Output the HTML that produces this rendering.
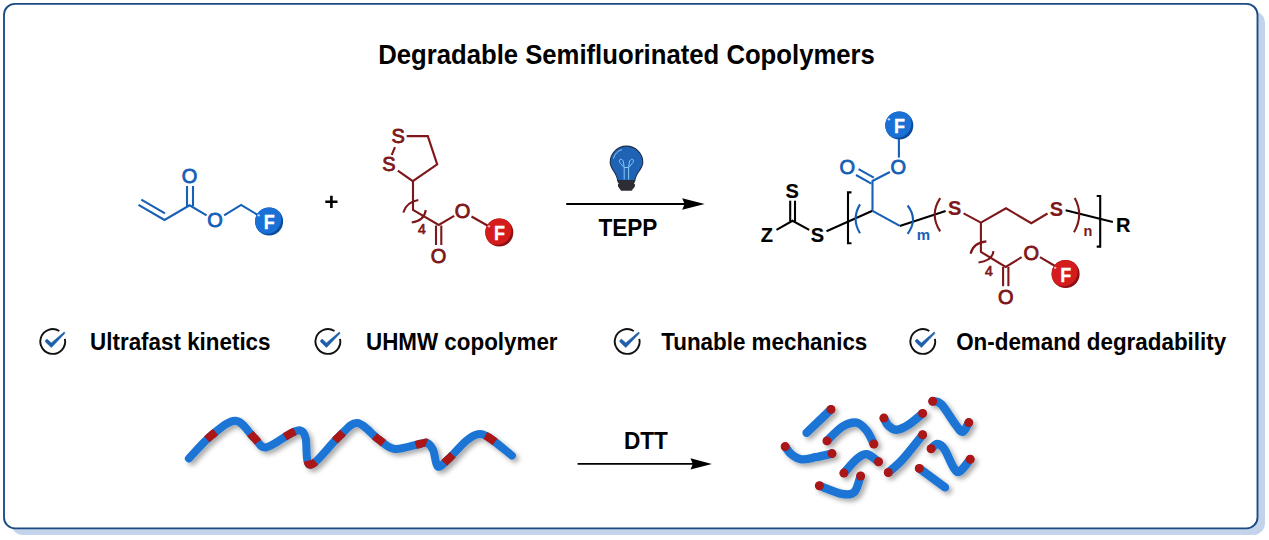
<!DOCTYPE html>
<html><head><meta charset="utf-8">
<style>
html,body{margin:0;padding:0;background:#fff;}
body{width:1269px;height:540px;overflow:hidden;position:relative;}
svg{position:absolute;left:0;top:0;}
text{font-family:"Liberation Sans",sans-serif;}
</style></head>
<body>
<svg width="1269" height="540" viewBox="0 0 1269 540">
<defs>
  <clipPath id="bc14"><circle r="14"/></clipPath>
  <filter id="psh" x="-10%" y="-30%" width="120%" height="160%">
    <feGaussianBlur in="SourceAlpha" stdDeviation="2.4"/>
    <feOffset dx="2.5" dy="3"/>
    <feComponentTransfer><feFuncA type="linear" slope="0.34"/></feComponentTransfer>
    <feMerge><feMergeNode/><feMergeNode in="SourceGraphic"/></feMerge>
  </filter>
</defs>
<rect x="11" y="11" width="1254" height="524" rx="12" fill="#c3d4ea"/>
<rect x="4" y="3.8" width="1253.5" height="524.6" rx="11" fill="#fff" stroke="#1b4a84" stroke-width="1.85"/>
<text transform="translate(626.5,63.9) scale(1,1.045)" font-size="25.7" font-weight="bold" text-anchor="middle" fill="#000">Degradable Semifluorinated Copolymers</text>

<g stroke="#1660b6" stroke-width="2.1" fill="none" stroke-linecap="butt" stroke-linejoin="miter">
<polyline points="138.5,204.9 164.5,220 189.6,205.3 206.6,215.3"/>
<line x1="141.3" y1="199.7" x2="165" y2="213.4"/>
<line x1="187" y1="186" x2="187" y2="206"/>
<line x1="193" y1="186" x2="193" y2="206"/>
<polyline points="224.1,215.3 241.1,204.9 262,217.5"/>
</g>
<text x="189.5" y="182.70" font-size="20" font-weight="normal" fill="#1660b6" stroke="#1660b6" stroke-width="0.85" text-anchor="middle">O</text>
<text x="215.1" y="227.10" font-size="20" font-weight="normal" fill="#1660b6" stroke="#1660b6" stroke-width="0.85" text-anchor="middle">O</text>
<g transform="translate(269.1,221.5)"><circle r="14" fill="#0c4c9e"/><circle cx="-2.4" cy="-2.4" r="14.6" fill="#1b70d6" clip-path="url(#bc14)"/><circle cx="-10.36" cy="-6.16" r="1.2" fill="#d6e6fa" opacity="0.9"/><text transform="translate(0.2,7.80) scale(0.9,1.0)" font-size="20" font-weight="bold" fill="#fff" stroke="#fff" stroke-width="0.3" text-anchor="middle">F</text></g>
<path d="M325.3,200.5 H337.5 V203.1 H325.3 Z M330.1,195.8 H332.7 V207.9 H330.1 Z" fill="#000"/>
<g stroke="#7e1719" stroke-width="2.1" fill="none" stroke-linecap="butt" stroke-linejoin="miter">
<polyline points="406.7,136.1 427.8,136.1 437.2,164.4 412.8,181.1 397.8,170.6"/>
<line x1="395" y1="147.2" x2="391.7" y2="155"/>
<polyline points="413,181.1 413,210 438.7,225 454.2,215.8"/>
<line x1="436" y1="225.5" x2="436" y2="245"/>
<line x1="441.3" y1="225.5" x2="441.3" y2="245"/>
<line x1="471.5" y1="216.5" x2="490" y2="227"/>
</g>
<text x="398.05" y="143.45" font-size="20" font-weight="normal" fill="#7e1719" stroke="#7e1719" stroke-width="0.85" text-anchor="middle">S</text>
<text x="388.9" y="171.00" font-size="20" font-weight="normal" fill="#7e1719" stroke="#7e1719" stroke-width="0.85" text-anchor="middle">S</text>
<text x="438.5" y="262.60" font-size="20" font-weight="normal" fill="#7e1719" stroke="#7e1719" stroke-width="0.85" text-anchor="middle">O</text>
<text x="462.5" y="218.10" font-size="20" font-weight="normal" fill="#7e1719" stroke="#7e1719" stroke-width="0.85" text-anchor="middle">O</text>
<path d="M403.3,212.5 Q406.20,202.15 418.3,200" stroke="#7e1719" stroke-width="2.1" fill="none"/>
<path d="M411.7,222.5 Q424.25,220.75 425.8,210" stroke="#7e1719" stroke-width="2.1" fill="none"/>
<text x="422" y="234.3" font-size="14" fill="#7e1719" stroke="#7e1719" stroke-width="0.7" text-anchor="middle">4</text>
<g transform="translate(499.3,232.5)"><circle r="14" fill="#8e0f12"/><circle cx="-2.4" cy="-2.4" r="14.6" fill="#d41c1c" clip-path="url(#bc14)"/><circle cx="-10.36" cy="-6.16" r="1.2" fill="#f6c9c9" opacity="0.9"/><text transform="translate(0.2,7.80) scale(0.9,1.0)" font-size="20" font-weight="bold" fill="#fff" stroke="#fff" stroke-width="0.3" text-anchor="middle">F</text></g>
<line x1="566.2" y1="204" x2="686" y2="204" stroke="#000" stroke-width="1.8"/>
<path d="M704.7,204 L682.2,198.3 L684.6,204 L682.2,209.7 Z" fill="#000"/>
<text transform="translate(627.9,236.1) scale(1,1.05)" font-size="22.6" font-weight="bold" text-anchor="middle" fill="#000">TEPP</text>
<path d="M617.6,180.6 C617.3,173 610.2,169 610.2,162.4 A16.3,16.3 0 1 1 642.8,162.4 C642.8,169 635.4,173 634.9,180.6 Z" fill="#1f64b4" stroke="#1f2f4a" stroke-width="1.1"/>
<path d="M613.4,158.6 Q615.5,151.5 621.9,149.6" stroke="#a9c9ef" stroke-width="0.9" fill="none"/>
<g stroke="#8ccaf8" stroke-width="0.95" fill="none"><path d="M624.2,179.5 L624.2,167.5 L620.6,163.5 A1.8,2.6 -30 1 1 623.4,162 L624.2,167.5"/><path d="M628.6,179.5 L628.6,167.5 L632.2,163.5 A1.8,2.6 30 1 0 629.4,162 L628.6,167.5"/><line x1="624.2" y1="167.5" x2="628.6" y2="167.5"/></g>
<path d="M617.6,180.2 L634.9,180.2 L634.7,182.7 L633.8,183.4 L634.9,184.2 L634.9,186.6 L631.6,190.7 L621.1,190.7 L618,186.6 L618,184.2 L618.9,183.4 L617.8,182.7 Z" fill="#2c2d35"/>
<g stroke="#000" stroke-width="2.1" fill="none" stroke-linecap="butt" stroke-linejoin="miter">
<polyline points="776.5,229.9 792.5,220.8 809.2,229.9"/>
<line x1="790.2" y1="200.7" x2="790.2" y2="221.5"/>
<line x1="795.0" y1="200.7" x2="795.0" y2="221.5"/>
<line x1="826.5" y1="231.2" x2="872.5" y2="210.8"/>
<line x1="899.8" y1="225.9" x2="945.6" y2="210.9"/>
<line x1="1065.6" y1="210.3" x2="1112.9" y2="221.9"/>
<polyline points="851.5,192.4 848,192.4 848,243.3 851.5,243.3"/>
<polyline points="1096.7,196 1100.2,196 1100.2,246.6 1096.7,246.6"/>
</g>
<text x="792.2" y="198.10" font-size="20" font-weight="bold" fill="#000" stroke="#000" stroke-width="0.2" text-anchor="middle">S</text>
<text x="766.8" y="242.20" font-size="20" font-weight="bold" fill="#000" stroke="#000" stroke-width="0.2" text-anchor="middle">Z</text>
<text x="817.5" y="242.20" font-size="20" font-weight="bold" fill="#000" stroke="#000" stroke-width="0.2" text-anchor="middle">S</text>
<text x="1123.3" y="231.60" font-size="20" font-weight="bold" fill="#000" stroke="#000" stroke-width="0.2" text-anchor="middle">R</text>
<g stroke="#1660b6" stroke-width="2.1" fill="none" stroke-linecap="butt" stroke-linejoin="miter">
<polyline points="872.5,210.8 872.5,181 889.9,172"/>
<line x1="873.8" y1="177.6" x2="858.6" y2="169.2"/>
<line x1="871.4" y1="183.6" x2="856.0" y2="175.0"/>
<line x1="872.5" y1="210.8" x2="899.8" y2="225.9"/>
<line x1="898.9" y1="157.6" x2="898.9" y2="139"/>
</g>
<path d="M860,204.4 Q851.20,218.95 860,233.3" stroke="#1660b6" stroke-width="2.1" fill="none"/>
<path d="M907.6,205.5 Q918.40,219.55 907.6,233.8" stroke="#1660b6" stroke-width="2.1" fill="none"/>
<text x="847.2" y="174.20" font-size="20" font-weight="normal" fill="#1660b6" stroke="#1660b6" stroke-width="0.85" text-anchor="middle">O</text>
<text x="898.2" y="174.20" font-size="20" font-weight="normal" fill="#1660b6" stroke="#1660b6" stroke-width="0.85" text-anchor="middle">O</text>
<text x="923.3" y="239.8" font-size="15" font-weight="bold" fill="#1660b6" text-anchor="middle">m</text>
<g transform="translate(899.3,125.5)"><circle r="14" fill="#0c4c9e"/><circle cx="-2.4" cy="-2.4" r="14.6" fill="#1b70d6" clip-path="url(#bc14)"/><circle cx="-10.36" cy="-6.16" r="1.2" fill="#d6e6fa" opacity="0.9"/><text transform="translate(0.2,7.80) scale(0.9,1.0)" font-size="20" font-weight="bold" fill="#fff" stroke="#fff" stroke-width="0.3" text-anchor="middle">F</text></g>
<g stroke="#7e1719" stroke-width="2.1" fill="none" stroke-linecap="butt" stroke-linejoin="miter">
<polyline points="963.6,213.3 980.9,222.6 1006,208.3 1031.3,223.2 1047.5,213.5"/>
<polyline points="980.9,222.6 980.9,251.9 1005.7,266.9 1021.6,257.2"/>
<line x1="1003.1" y1="266.9" x2="1003.1" y2="286.2"/>
<line x1="1008.4" y1="266.9" x2="1008.4" y2="286.2"/>
<line x1="1040" y1="257.2" x2="1055" y2="266"/>
</g>
<path d="M940.2,198.2 Q929.20,214.80 940.2,231.4" stroke="#7e1719" stroke-width="2.1" fill="none"/>
<path d="M1074.7,198 Q1084.05,214.85 1074,232.3" stroke="#7e1719" stroke-width="2.1" fill="none"/>
<path d="M970.6,253.7 Q973.10,242.85 986.4,241.4" stroke="#7e1719" stroke-width="2.1" fill="none"/>
<path d="M978.5,262.5 Q992.45,260.80 993.4,251.1" stroke="#7e1719" stroke-width="2.1" fill="none"/>
<text x="954.6" y="215.30" font-size="20" font-weight="bold" fill="#7e1719" stroke="#7e1719" stroke-width="0.2" text-anchor="middle">S</text>
<text x="1056.5" y="215.70" font-size="20" font-weight="bold" fill="#7e1719" stroke="#7e1719" stroke-width="0.2" text-anchor="middle">S</text>
<text x="1005.7" y="303.90" font-size="20" font-weight="normal" fill="#7e1719" stroke="#7e1719" stroke-width="0.85" text-anchor="middle">O</text>
<text x="1031.2" y="259.90" font-size="20" font-weight="normal" fill="#7e1719" stroke="#7e1719" stroke-width="0.85" text-anchor="middle">O</text>
<text x="989" y="275.7" font-size="14" fill="#7e1719" stroke="#7e1719" stroke-width="0.7" text-anchor="middle">4</text>
<text x="1088" y="236.2" font-size="14.5" font-weight="bold" fill="#7e1719" text-anchor="middle">n</text>
<g transform="translate(1065.6,274)"><circle r="14" fill="#8e0f12"/><circle cx="-2.4" cy="-2.4" r="14.6" fill="#d41c1c" clip-path="url(#bc14)"/><circle cx="-10.36" cy="-6.16" r="1.2" fill="#f6c9c9" opacity="0.9"/><text transform="translate(0.2,7.80) scale(0.9,1.0)" font-size="20" font-weight="bold" fill="#fff" stroke="#fff" stroke-width="0.3" text-anchor="middle">F</text></g>
<path d="M59.32,330.98 A12.4,12.4 0 1 0 64.88,338.92" stroke="#111" stroke-width="1.9" fill="none"/>
<polygon points="45.11,340.90 46.89,339.10 51.33,342.90 64.22,332.00 64.89,333.30 51.33,347.60 45.80,342.20" fill="#1f5eab" stroke="#1f5eab" stroke-width="0.6" stroke-linejoin="round"/>
<text transform="translate(90.1,349.9) scale(1,1.05)" font-size="22.4" font-weight="bold" fill="#000">Ultrafast kinetics</text>
<path d="M334.47,330.98 A12.4,12.4 0 1 0 340.03,338.92" stroke="#111" stroke-width="1.9" fill="none"/>
<polygon points="320.26,340.90 322.04,339.10 326.48,342.90 339.37,332.00 340.04,333.30 326.48,347.60 320.95,342.20" fill="#1f5eab" stroke="#1f5eab" stroke-width="0.6" stroke-linejoin="round"/>
<text transform="translate(366.0,349.9) scale(1,1.05)" font-size="22.4" font-weight="bold" fill="#000">UHMW copolymer</text>
<path d="M633.77,330.98 A12.4,12.4 0 1 0 639.33,338.92" stroke="#111" stroke-width="1.9" fill="none"/>
<polygon points="619.56,340.90 621.34,339.10 625.78,342.90 638.67,332.00 639.34,333.30 625.78,347.60 620.25,342.20" fill="#1f5eab" stroke="#1f5eab" stroke-width="0.6" stroke-linejoin="round"/>
<text transform="translate(661.2,349.9) scale(1,1.05)" font-size="22.4" font-weight="bold" fill="#000">Tunable mechanics</text>
<path d="M929.37,330.98 A12.4,12.4 0 1 0 934.93,338.92" stroke="#111" stroke-width="1.9" fill="none"/>
<polygon points="915.16,340.90 916.94,339.10 921.38,342.90 934.27,332.00 934.94,333.30 921.38,347.60 915.85,342.20" fill="#1f5eab" stroke="#1f5eab" stroke-width="0.6" stroke-linejoin="round"/>
<text transform="translate(956.2,349.9) scale(1,1.05)" font-size="22.4" font-weight="bold" fill="#000">On-demand degradability</text>
<line x1="577.6" y1="463.9" x2="693" y2="463.9" stroke="#000" stroke-width="1.9"/>
<path d="M711.9,463.9 L690.5,458.3 L692.8,463.9 L690.5,469.5 Z" fill="#000"/>
<text transform="translate(645.9,449.1) scale(1,1.06)" font-size="22.6" font-weight="bold" text-anchor="middle" fill="#000">DTT</text>
<g filter="url(#psh)">
<path d="M188.9,458.5 C192.60,454.68 203.32,441.90 211.1,435.6 C218.88,429.30 228.43,420.33 235.6,420.7 C242.77,421.07 249.05,433.35 254.1,437.8 C259.15,442.25 259.98,448.02 265.9,447.4 C271.82,446.78 283.92,436.93 289.6,434.1 C295.28,431.27 297.33,429.75 300,430.4 C302.67,431.05 303.87,432.27 305.6,438 C307.33,443.73 304.92,464.97 310.4,464.8 C315.88,464.63 330.73,443.97 338.5,437 C346.27,430.03 350.33,422.62 357,423 C363.67,423.38 372.20,434.98 378.5,439.3 C384.80,443.62 387.77,448.17 394.8,448.9 C401.83,449.63 415.27,444.68 420.7,443.7 C426.13,442.72 425.30,441.88 427.4,443 C429.50,444.12 431.57,446.48 433.3,450.4 C435.03,454.32 435.33,465.02 437.8,466.5 C440.27,467.98 443.40,463.55 448.1,459.3 C452.80,455.05 461.02,445.18 466,441 C470.98,436.82 474.07,434.70 478,434.2 C481.93,433.70 483.95,434.43 489.6,438 C495.25,441.57 508.18,452.67 511.9,455.6" stroke="#1b74d4" stroke-width="8" fill="none" stroke-linecap="round"/>
<path d="M188.9,458.5 C192.60,454.68 203.32,441.90 211.1,435.6 C218.88,429.30 228.43,420.33 235.6,420.7 C242.77,421.07 249.05,433.35 254.1,437.8 C259.15,442.25 259.98,448.02 265.9,447.4 C271.82,446.78 283.92,436.93 289.6,434.1 C295.28,431.27 297.33,429.75 300,430.4 C302.67,431.05 303.87,432.27 305.6,438 C307.33,443.73 304.92,464.97 310.4,464.8 C315.88,464.63 330.73,443.97 338.5,437 C346.27,430.03 350.33,422.62 357,423 C363.67,423.38 372.20,434.98 378.5,439.3 C384.80,443.62 387.77,448.17 394.8,448.9 C401.83,449.63 415.27,444.68 420.7,443.7 C426.13,442.72 425.30,441.88 427.4,443 C429.50,444.12 431.57,446.48 433.3,450.4 C435.03,454.32 435.33,465.02 437.8,466.5 C440.27,467.98 443.40,463.55 448.1,459.3 C452.80,455.05 461.02,445.18 466,441 C470.98,436.82 474.07,434.70 478,434.2 C481.93,433.70 483.95,434.43 489.6,438 C495.25,441.57 508.18,452.67 511.9,455.6" stroke="#ab1315" stroke-width="8" fill="none" stroke-linecap="butt" stroke-dasharray="0.00,26.17,11.50,43.43,11.50,31.77,11.50,38.07,11.50,28.36,11.50,39.67,11.50,34.24,11.50,35.18,11.50,40.64,11.50,32.67"/>
</g>
<g filter="url(#psh)">
<path d="M806.6,432.8 C810.67,428.90 826.93,413.30 831,409.4" stroke="#1b74d4" stroke-width="8.4" fill="none" stroke-linecap="round"/>
<path d="M827,440.9 C829.53,438.53 837.28,429.75 842.2,426.7 C847.12,423.65 852.42,421.93 856.5,422.6 C860.58,423.27 863.82,427.13 866.7,430.7 C869.58,434.27 872.62,441.78 873.8,444" stroke="#1b74d4" stroke-width="8.4" fill="none" stroke-linecap="round"/>
<path d="M785.2,446.6 C786.22,447.87 788.58,452.08 791.3,454.2 C794.02,456.32 797.43,458.80 801.5,459.3 C805.57,459.80 810.62,458.15 815.7,457.2 C820.78,456.25 829.28,454.20 832,453.6" stroke="#1b74d4" stroke-width="8.4" fill="none" stroke-linecap="round"/>
<path d="M843.9,473.1 C846.00,470.80 852.70,462.45 856.5,459.3 C860.30,456.15 863.03,453.80 866.7,454.2 C870.37,454.60 876.53,460.45 878.5,461.7" stroke="#1b74d4" stroke-width="8.4" fill="none" stroke-linecap="round"/>
<path d="M819.4,485.7 C823.20,487.07 836.37,492.87 842.2,493.9 C848.03,494.93 851.33,494.88 854.4,491.9 C857.47,488.92 859.57,478.65 860.6,476" stroke="#1b74d4" stroke-width="8.4" fill="none" stroke-linecap="round"/>
<path d="M883.9,418.1 C884.63,419.35 886.20,423.67 888.3,425.6 C890.40,427.53 893.10,429.87 896.5,429.7 C899.90,429.53 904.35,427.32 908.7,424.6 C913.05,421.88 920.28,415.27 922.6,413.4" stroke="#1b74d4" stroke-width="8.4" fill="none" stroke-linecap="round"/>
<path d="M932.7,401.2 C934.13,401.72 937.48,400.40 941.3,404.3 C945.12,408.20 952.03,420.02 955.6,424.6 C959.17,429.18 960.50,432.13 962.7,431.8 C964.90,431.47 967.78,424.13 968.8,422.6" stroke="#1b74d4" stroke-width="8.4" fill="none" stroke-linecap="round"/>
<path d="M922.6,434.8 C919.27,438.88 908.32,453.02 902.6,459.3 C896.88,465.58 890.68,470.30 888.3,472.5" stroke="#1b74d4" stroke-width="8.4" fill="none" stroke-linecap="round"/>
<path d="M931.1,448.7 C932.12,447.92 934.98,443.93 937.2,444 C939.42,444.07 941.68,445.20 944.4,449.1 C947.12,453.00 950.97,463.67 953.5,467.4 C956.03,471.13 956.82,472.85 959.6,471.5 C962.38,470.15 968.43,461.33 970.2,459.3" stroke="#1b74d4" stroke-width="8.4" fill="none" stroke-linecap="round"/>
<path d="M919.3,468.4 C923.58,471.57 940.72,484.23 945,487.4" stroke="#1b74d4" stroke-width="8.4" fill="none" stroke-linecap="round"/>
<circle cx="831" cy="409.4" r="4.5" fill="#ab1315"/>
<circle cx="827" cy="440.9" r="4.5" fill="#ab1315"/>
<circle cx="873.8" cy="444" r="4.5" fill="#ab1315"/>
<circle cx="785.2" cy="446.6" r="4.5" fill="#ab1315"/>
<circle cx="832" cy="453.6" r="4.5" fill="#ab1315"/>
<circle cx="843.9" cy="473.1" r="4.5" fill="#ab1315"/>
<circle cx="878.5" cy="461.7" r="4.5" fill="#ab1315"/>
<circle cx="819.4" cy="485.7" r="4.5" fill="#ab1315"/>
<circle cx="860.6" cy="476" r="4.5" fill="#ab1315"/>
<circle cx="883.9" cy="418.1" r="4.5" fill="#ab1315"/>
<circle cx="922.6" cy="413.4" r="4.5" fill="#ab1315"/>
<circle cx="932.7" cy="401.2" r="4.5" fill="#ab1315"/>
<circle cx="968.8" cy="422.6" r="4.5" fill="#ab1315"/>
<circle cx="922.6" cy="434.8" r="4.5" fill="#ab1315"/>
<circle cx="888.3" cy="472.5" r="4.5" fill="#ab1315"/>
<circle cx="931.1" cy="448.7" r="4.5" fill="#ab1315"/>
<circle cx="970.2" cy="459.3" r="4.5" fill="#ab1315"/>
<circle cx="919.3" cy="468.4" r="4.5" fill="#ab1315"/>
</g>
</svg>
</body></html>
